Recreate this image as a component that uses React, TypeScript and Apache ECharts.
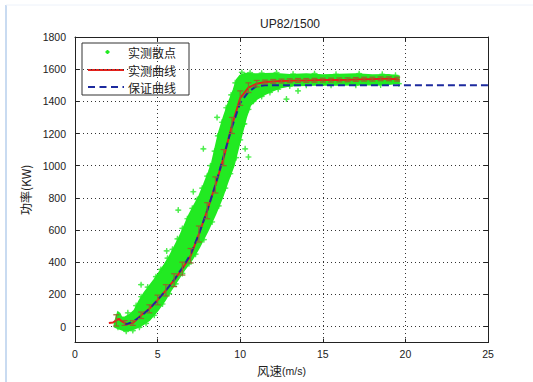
import React, { useEffect, useRef } from 'react';
import * as echarts from 'echarts';

const titleText = 'UP82/1500';
const xName = '风速';
const xUnit = '(m/s)';
const yName = '功率(KW)';
const legendNames = ['实测散点', '实测曲线', '保证曲线'];
const yTickValues = [0, 200, 400, 600, 800, 1000, 1200, 1400, 1600, 1800];

// measured power curve (wind speed m/s, power kW)
const measuredCurve: [number, number][] = [
  [2.05, 22], [2.3, 25], [2.5, 38], [2.65, 48], [2.8, 35], [3.0, 22], [3.2, 15], [3.5, 22],
  [4.0, 70], [4.5, 110], [5.0, 165], [5.5, 225], [6.0, 288], [6.5, 360], [7.0, 440],
  [7.5, 575], [8.0, 720], [8.5, 880], [9.0, 1050], [9.5, 1250], [10.0, 1420], [10.5, 1485],
  [11.0, 1510], [11.5, 1520], [12.0, 1524], [12.5, 1526], [13.0, 1528], [13.5, 1530],
  [14.0, 1530], [14.5, 1531], [15.0, 1532], [15.5, 1532], [16.0, 1533], [16.5, 1534],
  [17.0, 1536], [17.5, 1538], [18.0, 1538], [18.5, 1540], [19.0, 1540], [19.5, 1538], [19.65, 1535],
];

// guaranteed power curve
const guaranteeCurve: [number, number][] = [
  [3.0, 10], [3.5, 30], [4.0, 65], [4.5, 110], [5.0, 165], [5.5, 225], [6.0, 290], [6.5, 365],
  [7.0, 450], [7.5, 575], [8.0, 720], [8.5, 880], [9.0, 1060], [9.5, 1240], [10.0, 1390],
  [10.5, 1460], [11.0, 1495], [11.5, 1500], [25.0, 1500],
];

// error bars on the measured curve
const errX = [2.5, 3, 3.5, 4, 4.5, 5, 5.5, 6, 6.5, 7, 7.5, 8, 8.5, 9, 9.5, 10, 10.5, 11, 11.5, 12,
  12.5, 13, 13.5, 14, 14.5, 15, 15.5, 16, 16.5, 17, 17.5, 18, 18.5, 19, 19.5];
const errMid = [38, 22, 22, 70, 110, 165, 225, 288, 360, 440, 575, 720, 880, 1050, 1250, 1420, 1485,
  1510, 1520, 1524, 1526, 1528, 1530, 1530, 1531, 1532, 1532, 1533, 1534, 1536, 1538, 1538, 1540, 1540, 1538];
const errHalf = [35, 15, 15, 20, 25, 30, 35, 40, 40, 45, 50, 50, 50, 50, 50, 45, 30, 20, 12, 12, 12, 12,
  12, 12, 12, 12, 12, 12, 12, 12, 12, 12, 12, 12, 12];

// dense scatter cloud: outline of the densely packed measured points
const bandUpperEdge: [number, number][] = [
  [2.4, 20], [2.5, 55], [2.6, 88], [2.7, 80], [2.8, 58], [3.0, 55], [3.3, 72], [3.6, 100], [3.9, 160],
  [4.2, 210], [4.5, 250], [4.8, 290], [5.1, 335], [5.4, 380], [5.7, 430], [6.0, 490], [6.3, 550],
  [6.6, 620], [6.9, 690], [7.2, 750], [7.5, 805], [7.8, 880], [8.1, 960], [8.3, 1020], [8.5, 1110],
  [8.7, 1200], [9.0, 1300], [9.3, 1390], [9.6, 1470], [9.8, 1535], [10.0, 1560], [10.3, 1572],
  [11, 1568], [12, 1572], [13, 1563], [14, 1568], [15, 1562], [16, 1565], [17, 1568], [18, 1562],
  [19, 1564], [19.6, 1555],
];
const bandLowerEdge: [number, number][] = [
  [2.4, 0], [2.6, -10], [2.8, -18], [3.0, -25], [3.3, -22], [3.6, -12], [4.0, 5], [4.5, 40],
  [5.0, 100], [5.45, 165], [5.8, 225], [6.2, 288], [6.6, 350], [7.1, 420], [7.5, 490], [8.05, 600],
  [8.5, 700], [8.9, 800], [9.2, 890], [9.6, 1000], [9.85, 1100], [10.1, 1200], [10.35, 1300],
  [10.6, 1375], [11.0, 1415], [11.5, 1445], [12.0, 1468], [12.5, 1488], [13, 1498], [14, 1502],
  [15, 1504], [16, 1503], [17, 1505], [18, 1504], [19, 1508], [19.6, 1515],
];

// individual points at the cloud edges and outliers
const scatterPoints: [number, number][] = [
  [3.2, 85], [3.7, 130], [4.0, 185], [4.4, 245], [4.9, 310], [5.2, 355], [5.6, 425], [5.9, 480],
  [6.2, 545], [6.5, 610], [6.8, 670], [7.1, 735], [7.4, 790], [7.7, 860], [8.0, 935], [8.2, 1000],
  [8.45, 1090], [8.65, 1185], [8.9, 1270], [9.15, 1360], [9.45, 1440], [9.7, 1515], [10.1, 1580],
  [10.6, 1578], [11.3, 1575], [12.2, 1578], [13.2, 1570], [14.5, 1572], [15.8, 1568], [17.2, 1572],
  [18.6, 1568], [19.4, 1562],
  [2.6, -5], [3.1, -30], [3.5, -25], [3.9, -5], [4.3, 20], [4.8, 70], [5.3, 140], [5.7, 205],
  [6.1, 265], [6.5, 330], [6.9, 390], [7.3, 450], [7.8, 540], [8.3, 650], [8.7, 750], [9.1, 860],
  [9.4, 950], [9.75, 1050], [10.0, 1160], [10.25, 1260], [10.5, 1350], [10.8, 1400], [11.3, 1430],
  [11.8, 1455], [12.3, 1475], [13.0, 1495], [14.0, 1500], [15.5, 1500], [17.0, 1500], [18.5, 1502],
  [19.6, 1510],
  [5.55, 470], [6.25, 724], [7.16, 838], [7.77, 1105], [8.6, 1300], [10.2, 1259], [10.3, 1105],
  [10.5, 1054], [12.8, 1414], [13.5, 1465], [4.0, 260],
];

const GREEN = '#22ea22';
const RED = '#e3211c';
const BLUE = '#1c2a9e';
const ERR = '#8f6a2c';
const TXT = '#222';
const NUMFONT = '"Liberation Sans", Arial, sans-serif';
const CJKFONT = '"Noto Sans CJK SC", sans-serif';
const starSymbol = 'path://M2,0H3L3.2,1.8L5,2V3L3.2,3.2L3,5H2L1.8,3.2L0,3V2L1.8,1.8Z';

export default function App() {
  const ref = useRef<HTMLDivElement>(null);
  useEffect(() => {
    if (!ref.current) return;
    const chart = echarts.init(ref.current, null, { renderer: 'svg' });
    const bandPolygon = bandUpperEdge.concat(bandLowerEdge.slice().reverse());
    const axisLineStyle = { color: TXT, width: 1 };
    const legendText = (i: number, y: number) => ({
      type: 'text', x: 128, y,
      style: { text: legendNames[i], fontSize: 12, lineHeight: 13, fill: TXT, fontFamily: CJKFONT, verticalAlign: 'middle' },
    });
    const option: any = {
      animation: false,
      backgroundColor: '#fff',
      title: {
        text: titleText,
        left: 285,
        top: 13,
        textAlign: 'center',
        textStyle: { fontSize: 12, fontWeight: 'normal', color: TXT, fontFamily: NUMFONT },
      },
      grid: { left: 75, right: 45, top: 37, bottom: 37, containLabel: false },
      xAxis: [
        {
          type: 'value', min: 0, max: 25, interval: 5, position: 'bottom',
          axisLine: { onZero: false, lineStyle: axisLineStyle },
          axisTick: { inside: true, length: 4, lineStyle: axisLineStyle },
          axisLabel: { fontSize: 10.5, color: TXT, margin: 6, fontFamily: NUMFONT },
          splitLine: { show: true, lineStyle: { type: [1, 3], color: '#333', width: 1 } },
          name: '{a|' + xName + '}{b|' + xUnit + '}',
          nameLocation: 'middle',
          nameGap: 16,
          nameTextStyle: {
            rich: {
              a: { fontSize: 12.5, color: TXT, fontFamily: CJKFONT },
              b: { fontSize: 10.5, color: TXT, fontFamily: NUMFONT },
            },
          },
        },
        {
          type: 'value', min: 0, max: 25, interval: 5, position: 'top',
          axisLine: { onZero: false, lineStyle: axisLineStyle },
          axisTick: { inside: true, length: 4, lineStyle: axisLineStyle },
          axisLabel: { show: false },
          splitLine: { show: false },
        },
      ],
      yAxis: [
        {
          type: 'value', min: -100, max: 1800, position: 'left',
          axisLine: { show: true, onZero: false, lineStyle: axisLineStyle },
          axisTick: { show: true, inside: true, length: 4, lineStyle: axisLineStyle, customValues: yTickValues },
          axisLabel: {
            fontSize: 10.5, color: TXT, margin: 9, fontFamily: NUMFONT, customValues: yTickValues,
            formatter: (v: number) => String(v),
          },
          splitLine: { show: true, lineStyle: { type: [1, 3], color: '#333', width: 1 } },
          name: yName,
          nameLocation: 'middle',
          nameRotate: 90,
          nameGap: 38,
          nameTextStyle: { fontSize: 12, color: TXT, fontFamily: CJKFONT },
        },
        {
          type: 'value', min: -100, max: 1800, position: 'right',
          axisLine: { show: true, onZero: false, lineStyle: axisLineStyle },
          axisTick: { show: true, inside: true, length: 4, lineStyle: axisLineStyle, customValues: yTickValues },
          axisLabel: { show: false },
          splitLine: { show: false },
        },
      ],
      series: [
        {
          type: 'custom',
          name: legendNames[0] + '区',
          z: 1,
          data: [[bandPolygon[0][0], bandPolygon[0][1]]],
          renderItem: (_params: any, api: any) => ({
            type: 'polygon',
            shape: { points: bandPolygon.map((p) => api.coord(p)) },
            style: { fill: GREEN, stroke: GREEN, lineWidth: 2 },
          }),
        },
        {
          type: 'scatter',
          name: legendNames[0],
          z: 2,
          symbol: starSymbol,
          symbolSize: 6,
          itemStyle: { color: GREEN },
          data: scatterPoints,
        },
        {
          type: 'line',
          name: legendNames[1],
          z: 3,
          data: measuredCurve,
          symbol: 'none',
          lineStyle: { color: RED, width: 2 },
        },
        {
          type: 'line',
          name: legendNames[2],
          z: 4,
          data: guaranteeCurve,
          symbol: 'none',
          lineStyle: { color: BLUE, width: 2, type: [7, 4] },
        },
        {
          type: 'custom',
          name: '误差',
          z: 5,
          data: errX.map((x, i) => [x, errMid[i] - errHalf[i], errMid[i] + errHalf[i]]),
          encode: { x: 0, y: [1, 2] },
          renderItem: (_params: any, api: any) => {
            const x = api.value(0);
            const lo = api.coord([x, api.value(1)]);
            const hi = api.coord([x, api.value(2)]);
            const w = 3;
            const st = { stroke: ERR, lineWidth: 1.2 };
            return {
              type: 'group',
              children: [
                { type: 'line', shape: { x1: lo[0], y1: lo[1], x2: hi[0], y2: hi[1] }, style: st },
                { type: 'line', shape: { x1: lo[0] - w, y1: lo[1], x2: lo[0] + w, y2: lo[1] }, style: st },
                { type: 'line', shape: { x1: hi[0] - w, y1: hi[1], x2: hi[0] + w, y2: hi[1] }, style: st },
              ],
            };
          },
        },
      ],
      graphic: [
        { type: 'line', z: 0, shape: { x1: 6, y1: 5, x2: 6, y2: 382 }, style: { stroke: '#c9dbf1', lineWidth: 2 } },
        { type: 'line', z: 0, shape: { x1: 6, y1: 5, x2: 533, y2: 5 }, style: { stroke: '#edf2fa', lineWidth: 1 } },
        {
          type: 'group',
          z: 100,
          children: [
            { type: 'rect', shape: { x: 82, y: 43, width: 107, height: 52 }, style: { fill: '#fff', stroke: '#333', lineWidth: 1 } },
            { type: 'rect', shape: { x: 105.5, y: 51, width: 4, height: 2 }, style: { fill: GREEN } },
            { type: 'rect', shape: { x: 106.5, y: 50, width: 2, height: 4 }, style: { fill: GREEN } },
            { type: 'line', shape: { x1: 88, y1: 70, x2: 124, y2: 70 }, style: { stroke: RED, lineWidth: 2 } },
            { type: 'line', shape: { x1: 88, y1: 87, x2: 124, y2: 87 }, style: { stroke: BLUE, lineWidth: 2, lineDash: [7, 4.5] } },
            legendText(0, 52),
            legendText(1, 70),
            legendText(2, 87),
          ],
        },
      ],
    };
    chart.setOption(option);
    return () => chart.dispose();
  }, []);
  return (
    <div
      ref={ref}
      style={{ position: 'absolute', left: 0, top: 0, width: 533, height: 382 }}
    />
  );
}
